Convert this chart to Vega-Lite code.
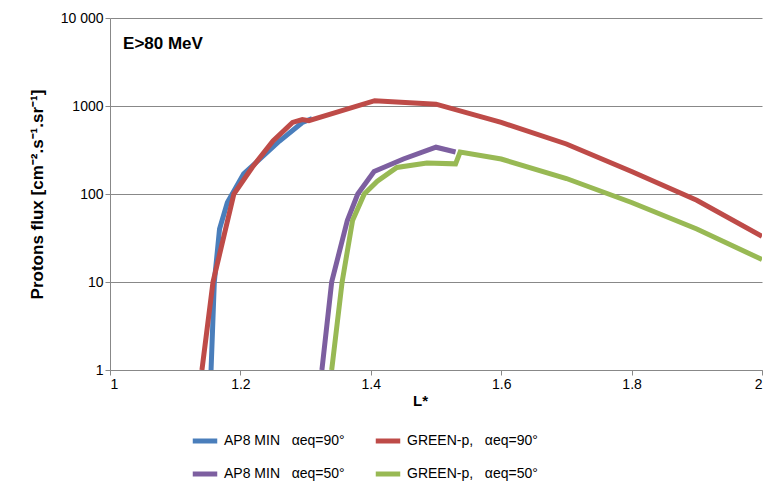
{
  "$schema": "https://vega.github.io/schema/vega-lite/v6.json",
  "width": 652,
  "height": 352,
  "padding": {"left": 28, "top": 11, "right": 2, "bottom": 0},
  "background": "white",
  "datasets": {
    "curves": [
      {"s": "AP8 MIN\u00a0\u00a0\u00a0αeq=90°", "L": 1.155, "f": 1},
      {"s": "AP8 MIN\u00a0\u00a0\u00a0αeq=90°", "L": 1.16, "f": 10},
      {"s": "AP8 MIN\u00a0\u00a0\u00a0αeq=90°", "L": 1.168, "f": 40},
      {"s": "AP8 MIN\u00a0\u00a0\u00a0αeq=90°", "L": 1.18, "f": 80},
      {"s": "AP8 MIN\u00a0\u00a0\u00a0αeq=90°", "L": 1.205, "f": 170},
      {"s": "AP8 MIN\u00a0\u00a0\u00a0αeq=90°", "L": 1.23, "f": 250},
      {"s": "AP8 MIN\u00a0\u00a0\u00a0αeq=90°", "L": 1.26, "f": 400},
      {"s": "AP8 MIN\u00a0\u00a0\u00a0αeq=90°", "L": 1.295, "f": 650},
      {"s": "AP8 MIN\u00a0\u00a0\u00a0αeq=90°", "L": 1.31, "f": 720},
      {"s": "GREEN-p,\u00a0\u00a0\u00a0αeq=90°", "L": 1.141, "f": 1},
      {"s": "GREEN-p,\u00a0\u00a0\u00a0αeq=90°", "L": 1.158, "f": 10},
      {"s": "GREEN-p,\u00a0\u00a0\u00a0αeq=90°", "L": 1.19, "f": 100},
      {"s": "GREEN-p,\u00a0\u00a0\u00a0αeq=90°", "L": 1.218, "f": 200},
      {"s": "GREEN-p,\u00a0\u00a0\u00a0αeq=90°", "L": 1.25, "f": 400},
      {"s": "GREEN-p,\u00a0\u00a0\u00a0αeq=90°", "L": 1.28, "f": 650},
      {"s": "GREEN-p,\u00a0\u00a0\u00a0αeq=90°", "L": 1.295, "f": 700},
      {"s": "GREEN-p,\u00a0\u00a0\u00a0αeq=90°", "L": 1.305, "f": 680},
      {"s": "GREEN-p,\u00a0\u00a0\u00a0αeq=90°", "L": 1.406, "f": 1150},
      {"s": "GREEN-p,\u00a0\u00a0\u00a0αeq=90°", "L": 1.5, "f": 1050},
      {"s": "GREEN-p,\u00a0\u00a0\u00a0αeq=90°", "L": 1.6, "f": 650},
      {"s": "GREEN-p,\u00a0\u00a0\u00a0αeq=90°", "L": 1.7, "f": 370},
      {"s": "GREEN-p,\u00a0\u00a0\u00a0αeq=90°", "L": 1.8, "f": 180},
      {"s": "GREEN-p,\u00a0\u00a0\u00a0αeq=90°", "L": 1.9, "f": 85},
      {"s": "GREEN-p,\u00a0\u00a0\u00a0αeq=90°", "L": 2.0, "f": 33},
      {"s": "AP8 MIN\u00a0\u00a0\u00a0αeq=50°", "L": 1.325, "f": 1},
      {"s": "AP8 MIN\u00a0\u00a0\u00a0αeq=50°", "L": 1.34, "f": 10},
      {"s": "AP8 MIN\u00a0\u00a0\u00a0αeq=50°", "L": 1.364, "f": 50},
      {"s": "AP8 MIN\u00a0\u00a0\u00a0αeq=50°", "L": 1.38, "f": 100},
      {"s": "AP8 MIN\u00a0\u00a0\u00a0αeq=50°", "L": 1.405, "f": 180},
      {"s": "AP8 MIN\u00a0\u00a0\u00a0αeq=50°", "L": 1.45, "f": 250},
      {"s": "AP8 MIN\u00a0\u00a0\u00a0αeq=50°", "L": 1.5, "f": 340},
      {"s": "AP8 MIN\u00a0\u00a0\u00a0αeq=50°", "L": 1.53, "f": 300},
      {"s": "GREEN-p,\u00a0\u00a0\u00a0αeq=50°", "L": 1.34, "f": 1},
      {"s": "GREEN-p,\u00a0\u00a0\u00a0αeq=50°", "L": 1.356, "f": 10},
      {"s": "GREEN-p,\u00a0\u00a0\u00a0αeq=50°", "L": 1.372, "f": 50},
      {"s": "GREEN-p,\u00a0\u00a0\u00a0αeq=50°", "L": 1.39, "f": 100},
      {"s": "GREEN-p,\u00a0\u00a0\u00a0αeq=50°", "L": 1.41, "f": 140},
      {"s": "GREEN-p,\u00a0\u00a0\u00a0αeq=50°", "L": 1.44, "f": 200},
      {"s": "GREEN-p,\u00a0\u00a0\u00a0αeq=50°", "L": 1.486, "f": 225},
      {"s": "GREEN-p,\u00a0\u00a0\u00a0αeq=50°", "L": 1.53, "f": 220},
      {"s": "GREEN-p,\u00a0\u00a0\u00a0αeq=50°", "L": 1.537, "f": 300},
      {"s": "GREEN-p,\u00a0\u00a0\u00a0αeq=50°", "L": 1.6, "f": 250},
      {"s": "GREEN-p,\u00a0\u00a0\u00a0αeq=50°", "L": 1.7, "f": 150},
      {"s": "GREEN-p,\u00a0\u00a0\u00a0αeq=50°", "L": 1.8, "f": 80},
      {"s": "GREEN-p,\u00a0\u00a0\u00a0αeq=50°", "L": 1.9, "f": 40},
      {"s": "GREEN-p,\u00a0\u00a0\u00a0αeq=50°", "L": 2.0, "f": 18}
    ],
    "label": [{"L": 1.02, "f": 5000, "t": "E>80 MeV"}]
  },
  "layer": [
    {
      "data": {"name": "curves"},
      "mark": {"type": "line", "strokeWidth": 5, "clip": true},
      "encoding": {
        "x": {"field": "L", "type": "quantitative", "scale": {"domain": [1, 2]},
          "axis": {"values": [1, 1.2, 1.4, 1.6, 1.8, 2], "format": "~g", "grid": false, "title": "L*", "titleFontSize": 15, "titleFontWeight": "bold", "titlePadding": 2, "titleX": 310, "titleColor": "black"}},
        "y": {"field": "f", "type": "quantitative", "scale": {"type": "log", "domain": [1, 10000]},
          "axis": {"values": [1, 10, 100, 1000, 10000], "labelExpr": "datum.value == 10000 ? '10 000' : datum.value", "title": "Protons flux [cm⁻².s⁻¹.sr⁻¹]", "titleFontSize": 17, "titleFontWeight": "bold", "titleColor": "black", "gridColor": "#888", "titlePadding": 14}},
        "color": {"field": "s", "type": "nominal",
          "scale": {"domain": ["AP8 MIN\u00a0\u00a0\u00a0αeq=90°", "GREEN-p,\u00a0\u00a0\u00a0αeq=90°", "AP8 MIN\u00a0\u00a0\u00a0αeq=50°", "GREEN-p,\u00a0\u00a0\u00a0αeq=50°"], "range": ["#4a7ebb", "#be4b48", "#7d5fa0", "#98b954"]},
          "legend": {"orient": "none", "direction": "horizontal", "legendX": 80, "legendY": 408, "columns": 2, "title": null, "symbolType": "stroke", "symbolStrokeWidth": 5, "symbolSize": 600, "labelFontSize": 14, "labelColor": "black", "columnPadding": 20, "rowPadding": 8, "labelLimit": 300}},
        "order": {"field": "L", "type": "quantitative"}
      }
    },
    {
      "data": {"name": "label"},
      "mark": {"type": "text", "align": "left", "fontSize": 17, "fontWeight": "bold", "color": "black"},
      "encoding": {
        "x": {"field": "L", "type": "quantitative"},
        "y": {"field": "f", "type": "quantitative"},
        "text": {"field": "t"}
      }
    }
  ],
  "config": {
    "font": "Liberation Sans",
    "view": {"stroke": null},
    "axis": {"labelFontSize": 14, "labelColor": "black", "domainColor": "#888", "tickColor": "#888", "tickSize": 5}
  }
}
